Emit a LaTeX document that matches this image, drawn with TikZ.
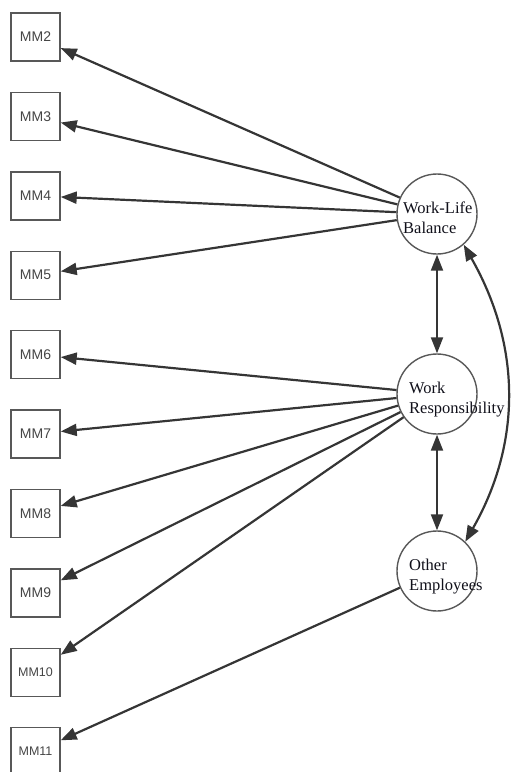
\documentclass[tikz,border=0pt]{standalone}
\usepackage{fontspec}
\setmainfont{Liberation Serif}
\newfontfamily\boxfont{Liberation Sans}
\usetikzlibrary{arrows.meta}
\definecolor{linec}{HTML}{353535}
\definecolor{boxc}{HTML}{585858}
\definecolor{boxtext}{HTML}{454545}
\definecolor{labc}{HTML}{10101A}
\tikzset{
  ind/.style={draw=boxc, line width=1.4pt, minimum width=49pt, minimum height=48pt, inner sep=0pt, text=boxtext, font=\boxfont\fontsize{14}{14}\selectfont},
  indsmall/.style={ind, font=\boxfont\fontsize{12.5}{12.5}\selectfont},
  lat/.style={circle, draw=boxc, line width=1.4pt, minimum size=80pt, inner sep=0pt},
  lab/.style={anchor=base west, inner sep=0pt, text=labc, font=\fontsize{16.5}{20}\selectfont},
  tipa/.tip={Triangle[length=16pt,width=12pt]},
  arr/.style={draw=linec, line width=2.2pt, -tipa},
  darr/.style={draw=linec, line width=2.2pt, tipa-tipa}
}
\begin{document}
\begin{tikzpicture}[x=1pt,y=-1pt]
\useasboundingbox (0,0) rectangle (513,772);
\node[ind] (mm2) at (35.5,37.0) {MM2};
\node[ind] (mm3) at (35.5,116.4) {MM3};
\node[ind] (mm4) at (35.5,195.8) {MM4};
\node[ind] (mm5) at (35.5,275.2) {MM5};
\node[ind] (mm6) at (35.5,354.6) {MM6};
\node[ind] (mm7) at (35.5,434.0) {MM7};
\node[ind] (mm8) at (35.5,513.4) {MM8};
\node[ind] (mm9) at (35.5,592.8) {MM9};
\node[indsmall] (mm10) at (35.5,672.2) {MM10};
\node[indsmall] (mm11) at (35.5,751.6) {MM11};

\node[lat] (wlb) at (437,214) {};
\node[lat] (wr) at (437,394) {};
\node[lat] (oe) at (437,571) {};

\node[lab] (wlbA) at (403,213) {Work-Life};
\node[lab] (wlbB) at (403,233) {Balance};
\node[lab] (wrA) at (409,393) {Work};
\node[lab] (wrB) at (409,413) {Responsibility};
\node[lab] (oeA) at (409,570) {Other};
\node[lab] (oeB) at (409,590) {Employees};

\foreach \m in {mm2,mm3,mm4,mm5} \draw[arr] (wlb) -- (\m);
\foreach \m in {mm6,mm7,mm8,mm9,mm10} \draw[arr] (wr) -- (\m);
\draw[arr] (oe) -- (mm11);

\draw[darr] (wlb) -- (wr);
\draw[darr] (wr) -- (oe);
\draw[darr] (wlb.-49) .. controls +(57,100) and +(57,-100) .. (oe.46);
\end{tikzpicture}
\end{document}
